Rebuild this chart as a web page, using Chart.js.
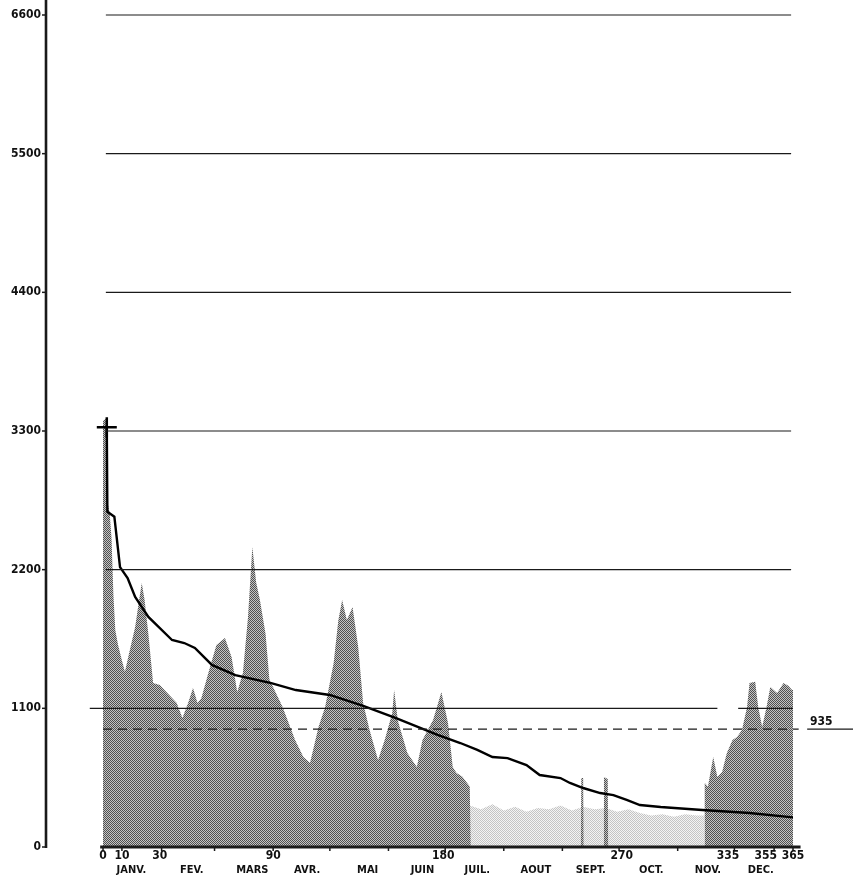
<!DOCTYPE html>
<html>
<head>
<meta charset="utf-8">
<script src="https://cdn.jsdelivr.net/npm/chart.js@4.4.1/dist/chart.umd.min.js"></script>
<style>
html,body{margin:0;padding:0;background:#fff;}
canvas{display:block;}
</style>
</head>
<body>
<canvas id="chart" width="853" height="878"></canvas>
<script>
// debits journaliers (m3/s)
const yTicks=[0,1100,2200,3300,4400,5500,6600]
const xTickDays=[0,10,30,90,180,270,335,355,365]
const months=['JANV.','FEV.','MARS','AVR.','MAI','JUIN','JUIL.','AOUT','SEPT.','OCT.','NOV.','DEC.']
const monthMid=[15,47,79,108,140,169,198,229,258,290,320,348]
const monthEnds=[0,10,31,59,90,120,151,181,212,243,273,304,334,355,365]
const meanFlow=935

// hydrogramme (partie foncee)
const hydroDays=[0,1.5,2.2,3.5,4.5,5.5,6.5,8,10,11.6,14,17,19,20.5,22,24,26.5,30,34,39,42,45,47.6,50,52,56.6,60,64.5,68,71,74,76.7,79,81,83,86,88,95,101.6,106,109.5,114,117.5,122,124.5,126.5,129,132,135,137.6,141,145.5,149,153,154,156,161,166,169,174.6,179,182.5,185,187,190,192.6,194,194.5,
 252.8,253,254,254.2,264.8,265,267,267.2,318,318.3,320,322.8,325,327.5,330,333,335.4,338,340.7,342,345,346.6,348.7,351,353,356.6,360,362.5,364.5,365]
const hydroFlows=[3380,3400,2750,2650,2450,2000,1720,1600,1480,1390,1550,1745,1950,2094,1960,1690,1300,1285,1222,1142,1023,1142,1261,1142,1180,1428,1602,1658,1507,1230,1380,1825,2380,2100,1960,1690,1330,1111,849,714,666,952,1111,1460,1800,1960,1800,1904,1587,1142,928,690,849,1063,1245,1000,746,635,849,1007,1230,984,635,587,560,508,480,0,
 0,547,547,0,0,555,540,0,0,508,480,714,555,595,745,849,873,928,1111,1301,1310,1111,952,1111,1270,1222,1301,1280,1245,1245]

// etiage (partie claire)
const lowDays=[194,200,206,212,218,224,230,236,242,248,254,260,266,272,278,284,290,296,302,308,314,318.3]
const lowFlows=[330,300,340,290,320,280,310,300,330,290,320,300,310,280,300,270,250,260,240,260,250,250]

// courbe des debits classes
const durDays=[2,2.3,6,9,13,17,24,36.5,43,48.6,57.6,70,89,102,120,138,155,177,189,198,206,214,224,231,242,247,254,263,270,277,284,295,317,342,365]
const durFlows=[3330,2660,2620,2220,2134,1983,1825,1642,1618,1579,1444,1364,1300,1245,1206,1118,1023,889,825,770,714,705,650,571,547,508,468,428,412,373,333,317,293,270,235]

const pts=(xs,ys)=>xs.map((d,i)=>({x:d,y:ys[i]}))

function dither(dark,light){
const c=document.createElement('canvas')
c.width=2;c.height=2
const g=c.getContext('2d')
g.fillStyle=light;g.fillRect(0,0,2,2)
g.fillStyle=dark;g.fillRect(0,0,1,1);g.fillRect(1,1,1,1)
return g.createPattern(c,'repeat')
}

const FONT='"DejaVu Sans Condensed","DejaVu Sans",sans-serif'
// alignement des etiquettes de jours
const tickAlign={270:'left',335:'right',355:'right'}

const axesPlugin={
id:'oldAxes',
afterDatasetsDraw(chart){
const ctx=chart.ctx
const xs=chart.scales.x, ys=chart.scales.y
const X=v=>xs.getPixelForValue(v), Y=v=>ys.getPixelForValue(v)
const left=chart.chartArea.left
ctx.save()
// lignes horizontales
ctx.strokeStyle='#1a1a1a'
ctx.lineWidth=1.2
yTicks.forEach(v=>{
if(v===0)return
const y=Y(v)
ctx.beginPath()
if(v===1100){
ctx.moveTo(X(-7),y);ctx.lineTo(X(325),y)
ctx.moveTo(X(336),y);ctx.lineTo(X(365),y)
}else{
ctx.moveTo(X(1.5),y);ctx.lineTo(X(364),y)
}
ctx.stroke()
})
// moyenne 935
const ym=Y(meanFlow)
ctx.lineWidth=1.4
ctx.setLineDash([9,6])
ctx.beginPath();ctx.moveTo(X(0),ym);ctx.lineTo(X(368),ym);ctx.stroke()
ctx.setLineDash([])
ctx.beginPath();ctx.moveTo(X(372.5),ym);ctx.lineTo(chart.width,ym);ctx.stroke()
ctx.fillStyle='#111'
ctx.font='bold 12px '+FONT
ctx.textAlign='left';ctx.textBaseline='bottom'
ctx.fillText(String(meanFlow),X(374),ym-1)
// axe vertical
ctx.lineWidth=2.6
ctx.beginPath();ctx.moveTo(left,0);ctx.lineTo(left,Y(0)+1);ctx.stroke()
ctx.lineWidth=1.5
ctx.textAlign='right';ctx.textBaseline='middle'
ctx.font='bold 12px '+FONT
yTicks.forEach(v=>{
const y=Y(v)
ctx.beginPath();ctx.moveTo(left-4,y);ctx.lineTo(left,y);ctx.stroke()
ctx.fillText(String(v),left-5,y)
})
// axe horizontal
const yb=Y(0)
ctx.lineWidth=3
ctx.beginPath();ctx.moveTo(X(-1.5),yb);ctx.lineTo(X(369),yb);ctx.stroke()
ctx.lineWidth=1.5
monthEnds.forEach(d=>{
ctx.beginPath();ctx.moveTo(X(d),yb);ctx.lineTo(X(d),yb+4);ctx.stroke()
})
ctx.textBaseline='middle'
ctx.font='bold 12px '+FONT
xTickDays.forEach(d=>{
const a=tickAlign[d]||'center'
ctx.textAlign=a
ctx.fillText(String(d),X(d)+(a==='right'?3:a==='left'?-3:0),yb+9)
})
ctx.textAlign='center'
ctx.font='bold 11px '+FONT
months.forEach((m,i)=>ctx.fillText(m,X(monthMid[i]),yb+23))
ctx.restore()
}
}

new Chart(document.getElementById('chart'),{
type:'line',
data:{
datasets:[
{
data:pts(durDays,durFlows),
borderColor:'#000',
borderWidth:2.4,
tension:0,
fill:false,
pointStyle:'cross',
pointRadius:c=>c.dataIndex===0?10:0,
pointBorderWidth:2.5,
pointBorderColor:'#000',
order:0
},
{
data:pts(hydroDays,hydroFlows),
borderWidth:0,
pointRadius:0,
tension:0,
fill:'origin',
backgroundColor:dither('#505050','#c4c4c4'),
order:1
},
{
data:pts(lowDays,lowFlows),
borderWidth:0,
pointRadius:0,
tension:0,
fill:'origin',
backgroundColor:dither('#c4c4c4','#f4f4f4'),
order:2
}
]
},
options:{
responsive:false,
animation:false,
devicePixelRatio:1,
layout:{padding:{left:46,right:60,top:15,bottom:31}},
plugins:{legend:{display:false},tooltip:{enabled:false}},
scales:{
x:{type:'linear',min:-30.16,max:365,display:false},
y:{type:'linear',min:0,max:6600,display:false}
}
},
plugins:[axesPlugin]
})
</script>
</body>
</html>
